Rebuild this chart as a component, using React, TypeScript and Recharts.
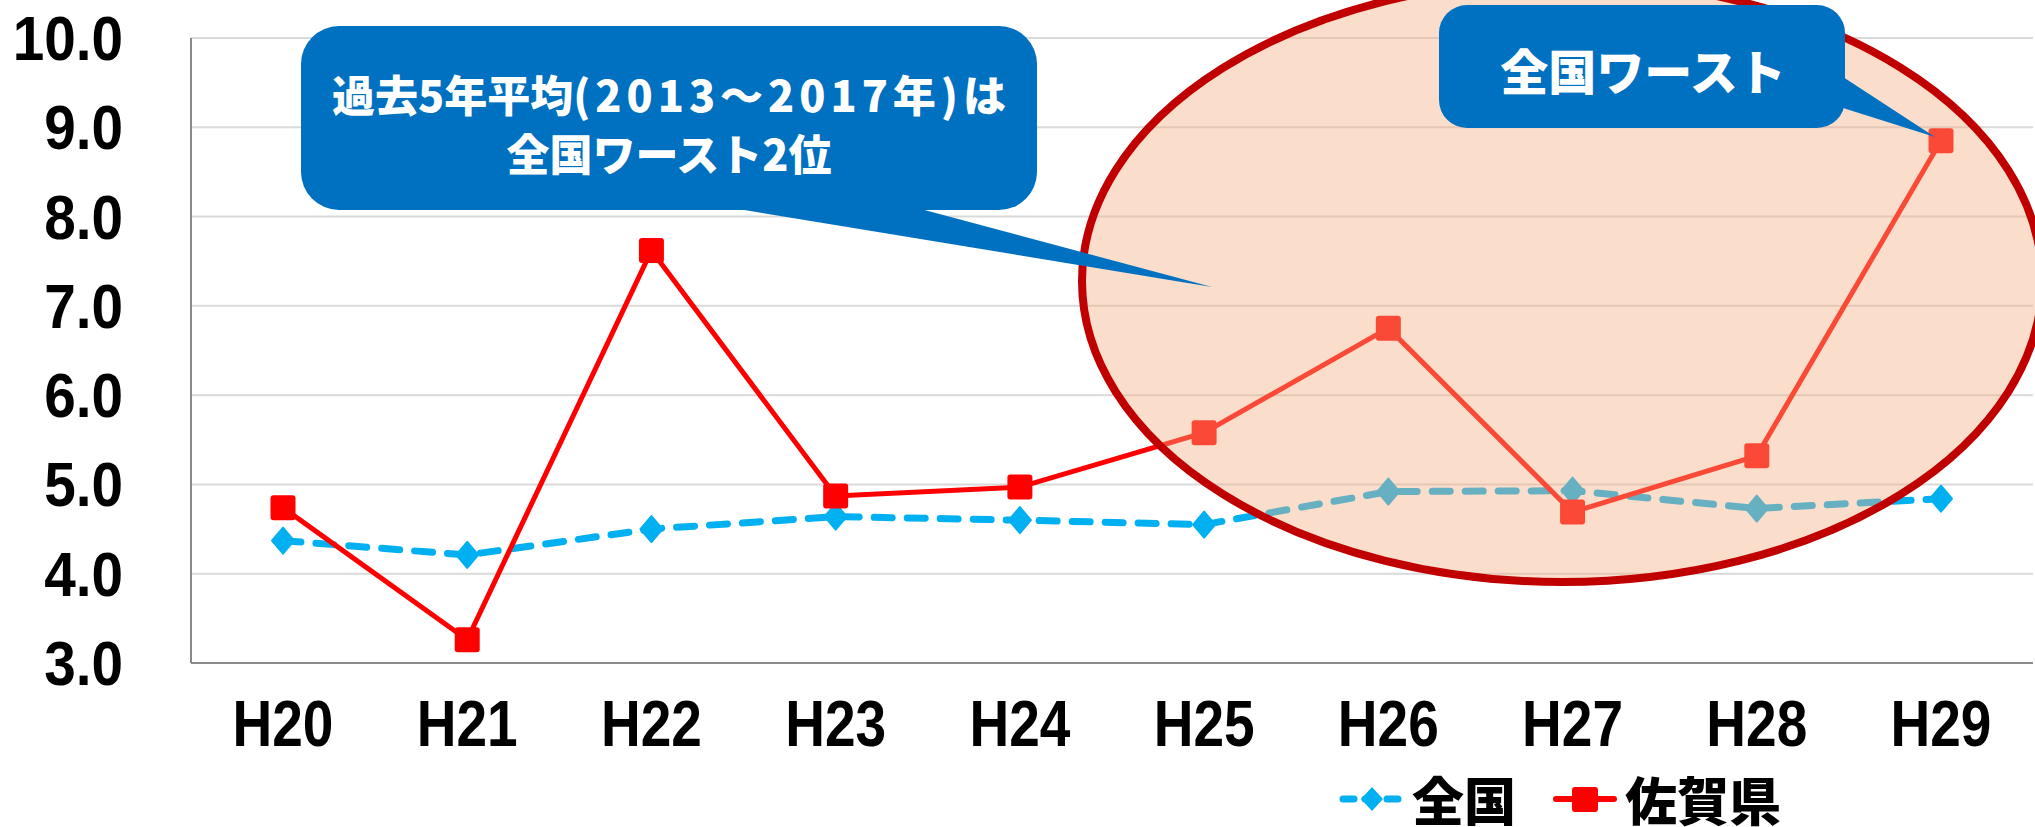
import { LineChart, Line, XAxis, YAxis, CartesianGrid, Legend } from "recharts"

// 年度 (平成)
const years = ["H20", "H21", "H22", "H23", "H24", "H25", "H26", "H27", "H28", "H29"]
// 全国
const nationalRates = [4.37, 4.21, 4.5, 4.64, 4.6, 4.55, 4.92, 4.93, 4.73, 4.84]
// 佐賀県
const sagaRates = [4.74, 3.26, 7.62, 4.87, 4.97, 5.58, 6.75, 4.69, 5.32, 8.85]
const yTicks = [3, 4, 5, 6, 7, 8, 9, 10]
const seriesNames = { national: "全国", saga: "佐賀県" }
const legendOrder = ["national", "saga"]

const chartData = years.map((year, i) => ({
  year,
  national: nationalRates[i],
  saga: sagaRates[i],
}))

const W = 2035
const H = 827
const JP = "'Noto Sans CJK JP', 'Noto Sans', sans-serif"
const NUM = "'Liberation Sans', Arial, sans-serif"
const BLUE = "#00B0F0"
const RED = "#FF0000"
const CALLOUT = "#0070C0"

function YTick({ x, y, payload }: any) {
  return (
    <text
      transform={`translate(${x},${y}) scale(0.9,1)`}
      x={0}
      y={0}
      dy={22}
      textAnchor="end"
      fontFamily={NUM}
      fontWeight={700}
      fontSize={63}
      fill="#000"
    >
      {Number(payload.value).toFixed(1)}
    </text>
  )
}

function XTick({ x, y, payload }: any) {
  return (
    <text
      transform={`translate(${x},${y}) scale(0.86,1)`}
      x={0}
      y={83}
      textAnchor="middle"
      fontFamily={NUM}
      fontWeight={700}
      fontSize={64}
      fill="#000"
    >
      {payload.value}
    </text>
  )
}

function SquareDot({ cx, cy }: any) {
  if (cx == null || cy == null) return null
  return <rect x={cx - 12.5} y={cy - 12.5} width={25} height={25} rx={3} fill={RED} />
}

function DiamondDot({ cx, cy }: any) {
  if (cx == null || cy == null) return null
  return (
    <path
      d={`M${cx},${cy - 13} L${cx + 11},${cy} L${cx},${cy + 13} L${cx - 11},${cy} Z`}
      fill={BLUE}
      strokeLinejoin="round"
      stroke={BLUE}
      strokeWidth={2}
    />
  )
}

function LegendIcon({ kind }: { kind: string }) {
  if (kind === "national") {
    return (
      <svg width={66} height={30} style={{ display: "block" }}>
        <line x1={4} y1={15} x2={62} y2={15} stroke={BLUE} strokeWidth={7} strokeDasharray="11 11" strokeLinecap="round" />
        <path d="M33,3 L44,15 L33,27 L22,15 Z" fill={BLUE} />
      </svg>
    )
  }
  return (
    <svg width={66} height={30} style={{ display: "block" }}>
      <line x1={4} y1={15} x2={62} y2={15} stroke={RED} strokeWidth={6} strokeLinecap="round" />
      <rect x={20} y={3} width={26} height={25} rx={3} fill={RED} />
    </svg>
  )
}

function LegendContent({ payload }: any) {
  const items = [...((payload || []) as any[])].sort(
    (a, b) => legendOrder.indexOf(a.dataKey) - legendOrder.indexOf(b.dataKey)
  )
  return (
    <div
      style={{
        display: "flex",
        alignItems: "center",
        height: 57,
        marginLeft: 1339,
        fontFamily: JP,
        fontWeight: 900,
        fontSize: 52,
        lineHeight: 1,
        color: "#000",
      }}
    >
      {items.map((item, i) => (
        <div key={item.dataKey} style={{ display: "flex", alignItems: "center", marginLeft: i === 0 ? 0 : 36 }}>
          <LegendIcon kind={item.dataKey} />
          <span style={{ marginLeft: 7 }}>{item.value}</span>
        </div>
      ))}
    </div>
  )
}

function Annotations() {
  return (
    <svg width={W} height={H} style={{ position: "absolute", left: 0, top: 0, pointerEvents: "none" }}>
      <ellipse cx={1562} cy={281} rx={480} ry={301} fill="#F4B183" fillOpacity={0.42} stroke="#C00000" strokeWidth={8} />

      {/* 過去5年平均 callout */}
      <rect x={301} y={26} width={736} height={184} rx={38} fill={CALLOUT} />
      <polygon points="732,208 917,208 1212,287" fill={CALLOUT} />
      <text x={669} y={93} textAnchor="middle" dominantBaseline="central" fontFamily={JP} fontWeight={900} fontSize={43} fill="#fff">
        過去5年平均
        <tspan letterSpacing={5}>(2013～2017年)</tspan>は
      </text>
      <text x={669} y={152} textAnchor="middle" dominantBaseline="central" fontFamily={JP} fontWeight={900} fontSize={43} fill="#fff">
        全国ワースト2位
      </text>

      {/* 全国ワースト callout */}
      <rect x={1439} y={5} width={406} height={123} rx={28} fill={CALLOUT} />
      <polygon points="1843,77 1843,108 1935,137" fill={CALLOUT} />
      <text x={1643} y={69} textAnchor="middle" dominantBaseline="central" fontFamily={JP} fontWeight={900} fontSize={48} fill="#fff">
        全国ワースト
      </text>
    </svg>
  )
}

export default function App() {
  return (
    <div style={{ position: "absolute", left: 0, top: 0, width: W, height: H, background: "#fff", overflow: "hidden" }}>
      <LineChart width={W} height={H} data={chartData} margin={{ top: 38, right: 2, left: 0, bottom: 0 }}>
        <CartesianGrid vertical={false} stroke="#D9D9D9" strokeWidth={2} />
        <XAxis
          dataKey="year"
          interval={0}
          padding={{ left: 92, right: 92 }}
          height={107}
          tickLine={false}
          tickSize={0}
          tickMargin={0}
          axisLine={{ stroke: "#898989", strokeWidth: 2 }}
          tick={<XTick />}
        />
        <YAxis
          domain={[3, 10]}
          ticks={yTicks}
          width={191}
          tickLine={false}
          tickSize={0}
          tickMargin={68}
          axisLine={{ stroke: "#898989", strokeWidth: 2 }}
          tick={<YTick />}
        />
        <Legend verticalAlign="bottom" content={<LegendContent />} />
        <Line
          dataKey="national"
          name={seriesNames.national}
          stroke={BLUE}
          strokeWidth={7}
          strokeDasharray="18 15"
          strokeLinecap="round"
          dot={<DiamondDot />}
          isAnimationActive={false}
        />
        <Line
          dataKey="saga"
          name={seriesNames.saga}
          stroke={RED}
          strokeWidth={5}
          dot={<SquareDot />}
          isAnimationActive={false}
        />
      </LineChart>
      <Annotations />
    </div>
  )
}
